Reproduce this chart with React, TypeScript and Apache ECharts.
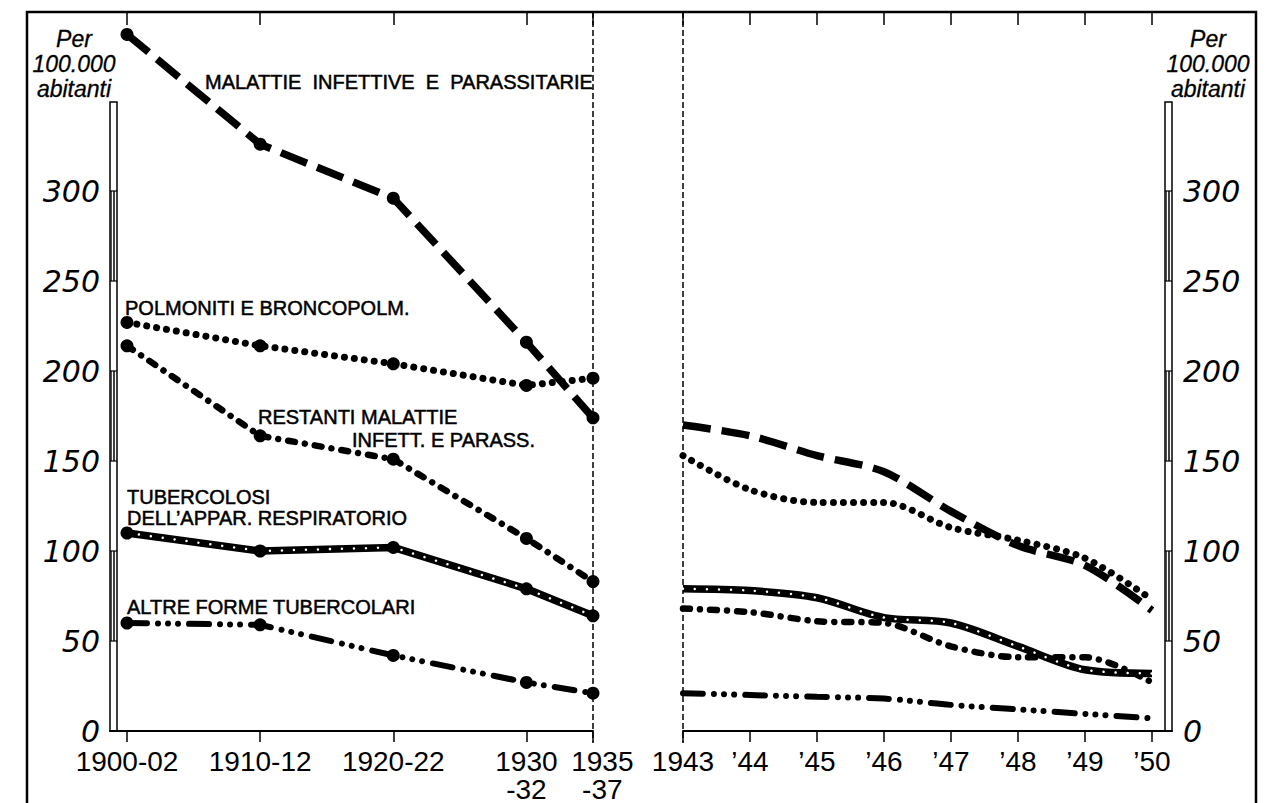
import React, { useEffect, useRef } from "react";
import * as echarts from "echarts";

// ---- categories ----
const leftPeriods = ["1900-02", "1910-12", "1920-22", "1930\n-32", "1935\n-37"];
const leftYears = [1901, 1911, 1921, 1931, 1936];
const rightPeriods = ["1943", "’44", "’45", "’46", "’47", "’48", "’49", "’50"];
const rightYears = [1943, 1944, 1945, 1946, 1947, 1948, 1949, 1950];
const yTicks = [0, 50, 100, 150, 200, 250, 300];

// ---- series values (per 100.000 abitanti) ----
const infettiveLeft = [387, 326, 296, 216, 174];
const polmonitiLeft = [227, 214, 204, 192, 196];
const restantiLeft = [214, 164, 151, 107, 83];
const tubRespLeft = [110, 100, 102, 79, 64];
const altreTubLeft = [60, 59, 42, 27, 21];

const infettiveRight = [170, 164, 153, 144, 122, 103, 92, 67];
const polmonitiRight = [153, 134, 127, 127, 113, 106, 96, 73];
const restantiRight = [68, 66, 61, 60, 47, 41, 41, 27];
const tubRespRight = [79, 78, 74, 63, 60, 47, 34, 32];
const altreTubRight = [21, 20, 19, 18, 14.5, 12, 9.5, 7];

const FONT = "Liberation Sans";

const pairs = (xs: number[], ys: number[]) => xs.map((x, i) => [x, ys[i]]);

const infStyle = { color: "#000", width: 7.5, type: [28, 11], cap: "butt" };
const polStyle = { color: "#000", width: 7, type: [0.01, 10], cap: "round" };
const resStyle = { color: "#000", width: 6.5, type: [7, 10, 0.01, 10], cap: "round" };
const altStyle = { color: "#000", width: 6, type: [20, 11, 0.01, 10, 0.01, 10, 0.01, 11], cap: "round" };
const tubStyle = { color: "#000", width: 7.5, type: "solid", cap: "butt" };
const tubDots = { color: "#fff", width: 2.5, type: [0.01, 12], cap: "round" };

function makeSeries(xIdx: number, xs: number[], data: number[], style: any, left: boolean, smooth: number) {
  return {
    type: "line",
    xAxisIndex: xIdx,
    yAxisIndex: xIdx,
    data: pairs(xs, data),
    clip: false,
    silent: true,
    smooth,
    lineStyle: style,
    symbol: "circle",
    symbolSize: left ? 13 : 0,
    showSymbol: left,
    itemStyle: { color: "#000" },
  };
}

// scale bar beside a y axis
function scaleBar(x0: number) {
  const top = 102;
  const bottom = 731;
  const py = (v: number) => 731 - (v / 350) * 630;
  const els: any[] = [
    { type: "rect", shape: { x: x0, y: top, width: 7, height: bottom - top }, style: { fill: "#fff", stroke: "#000", lineWidth: 1.5 } },
  ];
  const marks = [...yTicks, 350];
  for (let i = 0; i < marks.length - 1; i++) {
    const a = marks[i];
    const b = marks[i + 1];
    if (a % 100 === 50) {
      els.push({ type: "line", shape: { x1: x0 + 4, y1: py(a), x2: x0 + 4, y2: py(b) }, style: { stroke: "#000", lineWidth: 1.5 } });
      els.push({ type: "line", shape: { x1: x0 + 1.2, y1: py(a), x2: x0 + 1.2, y2: py(b) }, style: { stroke: "#000", lineWidth: 1 } });
    }
    els.push({ type: "line", shape: { x1: x0, y1: py(a), x2: x0 + 7, y2: py(a) }, style: { stroke: "#000", lineWidth: 1.2 } });
  }
  return els;
}

function label(text: string, x: number, y: number) {
  return {
    type: "text",
    x,
    y,
    style: {
      text,
      fill: "#000",
      stroke: "#000",
      lineWidth: 0.5,
      fontSize: 20,
      fontFamily: FONT,
      align: "left",
      verticalAlign: "middle",
    },
  };
}

function unitText(cx: number) {
  return {
    type: "text",
    x: cx,
    y: 26,
    style: {
      text: "Per\n100.000\nabitanti",
      fill: "#000",
      stroke: "#000",
      lineWidth: 0.3,
      fontSize: 23,
      fontStyle: "italic",
      fontFamily: FONT,
      align: "center",
      verticalAlign: "top",
      lineHeight: 25,
    },
  };
}

export default function App() {
  const ref = useRef<HTMLDivElement>(null);
  useEffect(() => {
    if (!ref.current) return;
    const chart = echarts.init(ref.current, undefined, { renderer: "svg" });

    const pxPerYearLeft = 13.314;
    const leftMin = 1901 - 17 / pxPerYearLeft;
    const rightMax = 1950 + 20 / 67;
    // label anchor positions (last left label sits a little right of its tick, as in the original)
    const leftLabelPos = leftYears.map((y, i) => (i === leftYears.length - 1 ? y + 0.7 : y));
    const labelAxisMax = 1937.5;

    const labelStyle = (xs: number[], labels: string[], margin: number) => ({
      show: true,
      customValues: xs,
      showMinLabel: true,
      showMaxLabel: true,
      hideOverlap: false,
      formatter: (v: number) => {
        const i = xs.indexOf(v);
        return i < 0 ? "" : labels[i];
      },
      color: "#000",
      fontSize: 28,
      fontFamily: FONT,
      lineHeight: 28,
      margin,
    });

    const bottomX = (gi: number, xs: number[], min: number, max: number, lab: any) => ({
      type: "value",
      gridIndex: gi,
      min,
      max,
      position: "bottom",
      axisLine: { show: true, lineStyle: { color: "#000", width: 2 } },
      axisTick: { show: true, customValues: xs, length: 11, lineStyle: { color: "#000", width: 1.5 } },
      axisLabel: lab,
      splitLine: { show: false },
    });
    const topX = (gi: number, xs: number[], min: number, max: number) => ({
      type: "value",
      gridIndex: gi,
      min,
      max,
      position: "top",
      offset: 89,
      axisLine: { show: false },
      axisTick: { show: true, inside: true, customValues: xs, length: 13, lineStyle: { color: "#000", width: 1.5 } },
      axisLabel: { show: false },
      splitLine: { show: false },
    });
    const yAx = (gi: number, pos: string, margin: number, show: boolean) => ({
      type: "value",
      gridIndex: gi,
      show,
      min: 0,
      max: 350,
      interval: 50,
      position: pos,
      axisLine: { show: false },
      axisTick: { show: false },
      splitLine: { show: false },
      axisLabel: {
        customValues: yTicks,
        showMinLabel: true,
        showMaxLabel: true,
        color: "#000",
        fontSize: 30,
        fontStyle: "italic",
        fontFamily: "DejaVu Sans",
        margin,
      },
    });

    chart.setOption({
      animation: false,
      backgroundColor: "#fff",
      grid: [
        { left: 110, top: 101, width: 483, height: 630, outerBoundsMode: "none", containLabel: false },
        { left: 683, top: 101, width: 489, height: 630, outerBoundsMode: "none", containLabel: false },
        {
          left: 110,
          top: 101,
          width: (labelAxisMax - leftMin) * pxPerYearLeft,
          height: 630,
          outerBoundsMode: "none",
          containLabel: false,
        },
      ],
      xAxis: [
        bottomX(0, leftYears, leftMin, 1936, { show: false }),
        bottomX(1, rightYears, 1943, rightMax, labelStyle(rightYears, rightPeriods, 16)),
        topX(0, leftYears, leftMin, 1936),
        topX(1, rightYears, 1943, rightMax),
        {
          type: "value",
          gridIndex: 2,
          min: leftMin,
          max: labelAxisMax,
          position: "bottom",
          axisLine: { show: false },
          axisTick: { show: false },
          splitLine: { show: false },
          axisLabel: labelStyle(leftLabelPos, leftPeriods, 16),
        },
      ],
      yAxis: [yAx(0, "left", 10, true), yAx(1, "right", 11, true), yAx(2, "left", 10, false)],
      series: [
        makeSeries(0, leftYears, infettiveLeft, infStyle, true, 0),
        makeSeries(0, leftYears, polmonitiLeft, polStyle, true, 0),
        makeSeries(0, leftYears, restantiLeft, resStyle, true, 0),
        makeSeries(0, leftYears, altreTubLeft, altStyle, true, 0),
        makeSeries(0, leftYears, tubRespLeft, tubStyle, true, 0),
        makeSeries(0, leftYears, tubRespLeft, tubDots, false, 0),
        makeSeries(1, rightYears, infettiveRight, infStyle, false, 0.3),
        makeSeries(1, rightYears, polmonitiRight, polStyle, false, 0.3),
        makeSeries(1, rightYears, restantiRight, resStyle, false, 0.3),
        makeSeries(1, rightYears, altreTubRight, altStyle, false, 0.3),
        makeSeries(1, rightYears, tubRespRight, tubStyle, false, 0.3),
        makeSeries(1, rightYears, tubRespRight, tubDots, false, 0.3),
      ],
      graphic: [
        { type: "polyline", shape: { points: [[27, 803], [27, 12], [1256, 12], [1256, 803]] }, style: { stroke: "#000", lineWidth: 2.5, fill: null } },
        { type: "line", shape: { x1: 593, y1: 12, x2: 593, y2: 743 }, style: { stroke: "#000", lineWidth: 1.5, lineDash: [6, 3] } },
        { type: "line", shape: { x1: 683, y1: 12, x2: 683, y2: 743 }, style: { stroke: "#000", lineWidth: 1.5, lineDash: [6, 3] } },
        ...scaleBar(110),
        ...scaleBar(1165),
        unitText(74),
        unitText(1208),
        label("MALATTIE  INFETTIVE  E  PARASSITARIE", 205, 82),
        label("POLMONITI E BRONCOPOLM.", 125, 308),
        label("RESTANTI MALATTIE", 258, 417),
        label("INFETT. E PARASS.", 352, 440),
        label("TUBERCOLOSI", 127, 497),
        label("DELL’APPAR. RESPIRATORIO", 127, 518),
        label("ALTRE FORME TUBERCOLARI", 127, 607),
      ],
    });
    return () => chart.dispose();
  }, []);
  return <div ref={ref} style={{ position: "fixed", left: 0, top: 0, width: 1276, height: 803 }} />;
}
